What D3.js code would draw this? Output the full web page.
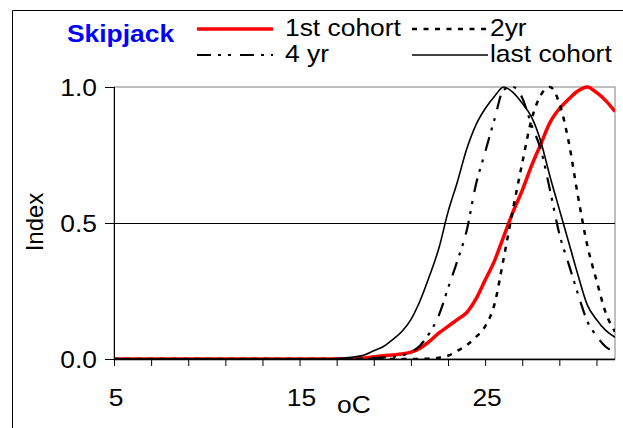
<!DOCTYPE html>
<html>
<head>
<meta charset="utf-8">
<script src="https://cdn.jsdelivr.net/npm/d3@7"></script>
<style>
  body { margin: 0; background: #fff; }
  svg text { font-family: "Liberation Sans", Arial, sans-serif; }
</style>
</head>
<body>
<svg id="chart" width="623" height="428"></svg>
<script>
// temperature (oC) and index values
var temps = [5,6,7,8,9,10,11,12,13,14,15,16,
  16.5,17,17.5,18,18.5,19,19.5,20,20.5,21,21.5,22,22.5,23,23.5,24,24.5,25,25.5,26,
  26.5,27,27.5,28,28.5,29,29.5,30,30.5,31,31.5,32];

var firstCohort = [0,0,0,0,0,0,0,0,0,0,0,0,
  0,0,0,0.002,0.004,0.008,0.012,0.015,0.018,0.025,0.04,0.065,0.095,0.12,0.145,0.17,0.22,0.29,0.36,0.45,
  0.54,0.62,0.71,0.79,0.87,0.92,0.955,0.985,1.0,0.98,0.95,0.91];

var twoYr = [0,0,0,0,0,0,0,0,0,0,0,0,
  0,0,0,0,0,0,0,0,0,0,0,0.002,0.005,0.012,0.03,0.05,0.08,0.12,0.2,0.37,
  0.55,0.72,0.88,0.97,1.0,0.94,0.8,0.6,0.42,0.29,0.17,0.1];

var fourYr = [0,0,0,0,0,0,0,0,0,0,0,0,
  0,0,0.001,0.002,0.003,0.004,0.006,0.008,0.013,0.025,0.05,0.095,0.16,0.26,0.36,0.47,0.64,0.76,0.88,0.99,
  1.0,0.96,0.86,0.77,0.62,0.46,0.35,0.24,0.14,0.085,0.045,0.026];

var lastCohort = [0,0,0,0,0,0,0,0,0,0,0,0,
  0,0.002,0.004,0.008,0.015,0.03,0.045,0.07,0.1,0.145,0.215,0.305,0.405,0.54,0.65,0.77,0.86,0.92,0.965,1.0,
  0.98,0.94,0.89,0.8,0.67,0.55,0.43,0.31,0.2,0.145,0.105,0.08];

var xTicks = [5,7,9,11,13,15,17,19,21,23,25,27,29,31];
var xLabels = [5,15,25];
var yTicks = [0,0.5,1];

var series = [
  {name: "1st cohort", values: firstCohort, color: "#ff0000", width: 3.5, dash: null},
  {name: "2yr", values: twoYr, color: "#000", width: 2.5, dash: "5,6.5"},
  {name: "4 yr", values: fourYr, color: "#000", width: 2.2, dash: "14,7,3,7,3,9"},
  {name: "last cohort", values: lastCohort, color: "#000", width: 1.6, dash: null}
];

var svg = d3.select("#chart");
var margin = {top: 87, right: 8, bottom: 69, left: 114};
var w = 623 - margin.left - margin.right;
var h = 428 - margin.top - margin.bottom;

var x = d3.scaleLinear().domain([5, 32]).range([0, w]);
var y = d3.scaleLinear().domain([0, 1]).range([h, 0]);

// stretched text like the original picture
function label(parent, txt, px, py, anchor, opts) {
  opts = opts || {};
  return parent.append("text")
    .attr("transform", "translate(" + px + "," + py + ") scale(1.1,1)")
    .attr("text-anchor", anchor || "start")
    .style("font-size", (opts.size || 24) + "px")
    .style("font-weight", opts.bold ? "bold" : "normal")
    .style("fill", opts.color || "#000")
    .text(txt);
}

// outer frame
svg.append("path")
  .attr("d", "M12.5,440 V10.5 H640")
  .attr("fill", "none").attr("stroke", "#000").attr("stroke-width", 1);

var g = svg.append("g")
  .attr("transform", "translate(" + margin.left + "," + margin.top + ")");

// plot area border
g.append("rect")
  .attr("x", 0).attr("y", 0).attr("width", w).attr("height", h)
  .attr("fill", "none").attr("stroke", "#808080").attr("stroke-width", 1);

// gridline at 0.5
g.append("line")
  .attr("x1", 0).attr("x2", w)
  .attr("y1", Math.round(y(0.5)) + 0.5).attr("y2", Math.round(y(0.5)) + 0.5)
  .attr("stroke", "#000").attr("stroke-width", 1);

g.append("clipPath").attr("id", "clip")
  .append("rect").attr("x", 0).attr("y", -3).attr("width", w).attr("height", h + 3);

var line = d3.line()
  .curve(d3.curveMonotoneX)
  .x(function(d, i) { return x(temps[i]); })
  .y(function(d) { return y(d); });

g.append("g").attr("clip-path", "url(#clip)")
  .selectAll("path")
  .data(series)
  .enter().append("path")
  .attr("fill", "none")
  .attr("stroke", function(d) { return d.color; })
  .attr("stroke-width", function(d) { return d.width; })
  .attr("stroke-dasharray", function(d) { return d.dash; })
  .attr("d", function(d) { return line(d.values); });

// axes
var xAxis = g.append("g")
  .attr("transform", "translate(0," + h + ")")
  .call(d3.axisBottom(x).tickValues(xTicks).tickSize(7).tickFormat(""));
xAxis.select(".domain").attr("d", "M0,0.5H" + w).attr("stroke-width", 1.5);

var yAxis = g.append("g")
  .call(d3.axisLeft(y).tickValues(yTicks).tickSize(9).tickFormat(""));
yAxis.select(".domain").attr("d", "M0.5," + h + "V0");

// tick labels
xLabels.forEach(function(v) {
  label(g, v, x(v) + 2, h + 47, "middle");
});
yTicks.forEach(function(v) {
  label(g, d3.format(".1f")(v), -17, y(v) + 8.5, "end");
});

// axis titles
label(svg, "oC", 337, 413, "start");
svg.append("text")
  .attr("transform", "translate(43,222) rotate(-90)")
  .attr("text-anchor", "middle")
  .style("font-size", "24px")
  .text("Index");

// legend
label(svg, "Skipjack", 67, 42, "start", {bold: true, color: "#0000ff"});

var legendPos = [
  {x: 197, y: 29, tx: 285},
  {x: 412, y: 29, tx: 490},
  {x: 197, y: 55, tx: 285},
  {x: 412, y: 55, tx: 490}
];
series.forEach(function(s, i) {
  var p = legendPos[i];
  svg.append("line")
    .attr("x1", p.x).attr("x2", p.x + 76)
    .attr("y1", p.y).attr("y2", p.y)
    .attr("stroke", s.color)
    .attr("stroke-width", s.width)
    .attr("stroke-dasharray", s.dash);
  label(svg, s.name, p.tx, p.y + 7, "start");
});
</script>
</body>
</html>
